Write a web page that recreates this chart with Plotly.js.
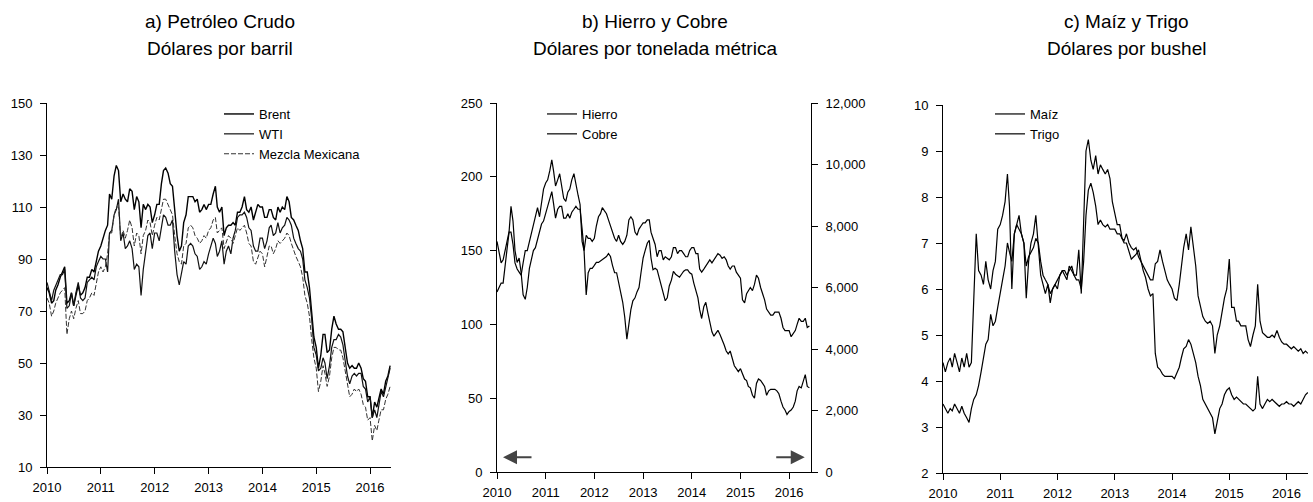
<!DOCTYPE html>
<html>
<head>
<meta charset="utf-8">
<script src="https://cdn.plot.ly/plotly-3.0.1.min.js"></script>
<style>
  html, body { margin: 0; padding: 0; background: #ffffff; }
  #chart { width: 1313px; height: 502px; }
</style>
</head>
<body>
<div id="chart"></div>
<script>
// ---------- Tick labels ----------
const yearTickVals = ['2010-01-01','2011-01-01','2012-01-01','2013-01-01','2014-01-01','2015-01-01','2016-01-01'];
const yearTickText = ['2010','2011','2012','2013','2014','2015','2016'];

// ---------- a) Petróleo crudo (USD/barril), semi-monthly readings ----------
const brent = [
  79,77,73,74,78,80,83,85,87,73,74,77,72,76,80,76,77,79,83,83,86,85,89,93,
  95,98,101,103,115,113,122,126,124,112,115,113,112,117,116,109,114,112,102,111,109,111,110,104,
  107,111,111,119,124,125,123,119,118,109,99,93,95,104,107,114,114,114,112,113,108,109,111,109,
  111,111,115,118,110,108,110,99,102,103,103,104,103,108,108,110,114,109,108,110,105,108,111,110,
  110,106,106,109,109,106,105,110,108,110,109,114,112,106,105,103,101,97,94,85,85,79,70,60,
  56,48,53,61,61,54,55,63,68,65,63,63,62,57,50,48,49,48,48,50,48,44,43,37,
  37,29,35,33,36,40,38,43,45,49
];
const wti = [
  81,78,74,78,80,82,84,84,86,71,72,77,72,77,81,75,74,75,81,82,83,82,87,89,
  91,90,90,85,100,101,107,109,113,97,100,94,95,97,94,86,88,87,76,86,92,99,100,94,
  100,100,97,103,107,106,103,103,105,93,84,80,84,89,88,95,96,95,92,91,86,87,89,88,
  92,95,98,96,91,93,97,88,93,95,92,98,101,106,107,107,108,106,102,101,95,93,93,98,
  98,94,97,102,103,99,100,104,100,102,103,106,105,103,98,96,94,93,90,82,79,75,67,56,
  53,47,48,52,50,44,49,56,59,59,61,60,57,51,45,42,45,46,45,46,46,41,40,35,
  37,29,32,29,34,39,37,41,45,48
];
const mezcla = [
  75,73,68,70,73,75,77,78,79,61,67,70,67,71,74,69,69,70,74,75,77,76,81,85,
  87,85,87,92,100,100,107,110,110,98,101,98,101,105,102,95,100,99,92,99,101,105,104,99,
  103,106,105,110,113,113,111,109,107,99,92,89,88,95,96,102,103,102,99,98,96,97,99,98,
  101,102,105,106,100,101,102,94,97,99,98,96,99,102,101,102,103,100,96,95,89,88,91,93,
  92,87,91,95,95,92,94,97,96,97,98,100,99,96,93,91,89,87,83,76,73,68,59,52,
  48,39,43,49,46,41,45,52,56,56,55,55,52,47,41,37,38,40,39,40,38,34,33,28,
  29,20,26,24,28,32,32,36,38,41
];

// ---------- b) Hierro (USD/t, eje izq.) y Cobre (USD/t, eje der.) ----------
const hierro = [
  122,125,128,128,140,150,162,180,170,150,142,145,135,120,117,125,138,145,150,152,158,162,168,170,
  175,180,185,190,182,172,178,180,180,172,172,175,172,176,178,180,178,178,165,150,120,135,138,138,
  140,142,142,143,144,145,146,148,146,140,135,135,128,120,115,105,90,100,110,116,118,122,125,135,
  145,150,155,157,145,137,138,137,132,128,122,116,118,126,130,136,134,133,132,134,136,137,137,135,
  134,128,122,118,110,104,112,115,108,102,95,92,94,96,93,90,86,82,80,82,76,72,70,68,
  70,66,63,62,58,57,52,50,60,63,62,60,58,52,55,56,56,56,55,53,48,44,42,39,
  41,42,44,48,55,58,57,62,66,58,57
];
const cobre = [
  7500,7200,6800,6900,7200,7500,7800,7800,7400,6800,6600,6500,6400,6800,7200,7200,7500,7800,8100,8300,8600,8300,8800,9200,
  9400,9500,9800,10150,9800,9300,9500,9700,9300,8900,8800,9100,9200,9500,9700,9300,9000,8700,7500,7200,7700,7600,7600,7500,
  7600,8000,8300,8400,8600,8500,8400,8200,8000,7800,7600,7500,7700,7500,7400,7500,7700,8200,8300,8200,7800,7700,7900,8000,
  8100,8100,8200,8200,7800,7600,7400,7000,7200,7200,6900,7000,6950,6900,7000,7300,7300,7100,7200,7200,7100,7000,7000,7200,
  7300,7300,7100,7100,6600,6500,6600,6700,6800,6900,6800,6900,7000,7100,7050,6950,7000,6900,6700,6600,6700,6700,6500,6400,
  6300,5600,5500,5800,5900,6000,5900,6100,6400,6300,6000,5800,5600,5300,5200,5100,5100,5200,5200,5200,5000,4700,4600,4600,
  4600,4400,4500,4600,4800,5000,4900,4900,5000,4700,4750
];

// ---------- c) Maíz y Trigo (USD/bushel) ----------
const maiz = [
  3.5,3.4,3.3,3.4,3.35,3.5,3.4,3.3,3.45,3.3,3.2,3.1,3.4,3.6,3.7,3.9,4.2,4.5,4.8,4.9,5.45,5.2,5.3,5.6,
  5.95,6.2,6.5,7.0,6.8,6.6,7.2,7.4,7.3,7.2,7.0,6.5,6.7,6.8,6.9,7.1,7.0,6.6,6.3,6.2,6.1,5.9,6.0,6.1,
  6.2,6.3,6.4,6.4,6.3,6.4,6.5,6.3,6.2,6.2,6.0,6.6,7.6,8.15,8.3,8.1,7.8,7.4,7.5,7.4,7.35,7.4,7.3,7.3,
  7.3,7.2,7.2,7.1,7.0,7.0,6.8,6.65,6.7,6.75,6.85,6.6,6.4,6.25,6.0,5.85,5.9,4.6,4.3,4.25,4.15,4.1,4.1,4.1,
  4.1,4.05,4.2,4.3,4.5,4.7,4.75,4.9,4.8,4.6,4.4,4.1,3.9,3.6,3.5,3.4,3.3,3.2,2.85,3.1,3.4,3.5,3.7,3.8,
  3.85,3.7,3.6,3.65,3.6,3.55,3.5,3.5,3.45,3.4,3.35,3.4,4.1,3.5,3.4,3.5,3.6,3.55,3.6,3.55,3.5,3.45,3.5,3.5,
  3.55,3.5,3.5,3.45,3.5,3.55,3.5,3.6,3.7,3.75
];
const trigo = [
  4.4,4.2,4.4,4.5,4.3,4.6,4.4,4.2,4.5,4.3,4.6,4.3,4.4,5.6,7.2,6.4,6.3,6.1,6.6,6.2,6.0,6.4,6.6,7.3,
  7.4,7.6,7.9,8.5,7.8,6.0,7.2,7.4,7.6,7.2,7.0,5.8,6.6,7.0,7.2,7.6,6.9,6.3,6.1,5.9,6.1,5.7,6.0,6.1,
  6.0,6.3,6.4,6.3,6.2,6.5,6.4,6.3,6.3,6.85,5.9,7.3,9.0,9.25,8.8,8.6,8.9,8.5,8.7,8.6,8.5,8.6,8.4,7.9,
  7.6,7.4,7.4,7.1,7.05,7.2,7.0,6.9,6.85,6.9,6.7,6.6,6.5,6.4,6.3,6.2,6.2,6.55,6.6,6.85,6.6,6.4,6.2,6.1,
  6.0,5.8,5.75,6.1,6.5,6.9,7.2,6.85,7.35,6.9,6.5,5.85,5.6,5.4,5.3,5.25,5.3,5.2,4.6,5.0,5.2,5.5,5.8,6.0,
  6.65,5.6,5.6,5.3,5.3,5.2,5.2,5.2,4.9,4.75,5.0,5.2,6.1,5.3,5.05,5.0,4.95,4.95,5.0,4.95,5.1,4.95,4.85,4.8,
  4.8,4.75,4.7,4.75,4.7,4.65,4.7,4.6,4.65,4.6
];

// semi-monthly observation dates (1st and 16th of each month) starting Jan 2010
function semiMonthlyDates(n) {
  const out = [];
  for (let i = 0; i < n; i++) {
    const y = 2010 + Math.floor(i / 24);
    const m = Math.floor((i % 24) / 2) + 1;
    const d = (i % 2 === 0) ? '01' : '16';
    out.push(y + '-' + String(m).padStart(2, '0') + '-' + d);
  }
  return out;
}
const datesA = semiMonthlyDates(brent.length);
const datesB = semiMonthlyDates(hierro.length);
const datesC = semiMonthlyDates(maiz.length);

const FONT = 'Liberation Sans, Arial, Helvetica, sans-serif';

const traces = [
  {x: datesA, y: brent, name: 'Brent', type: 'scatter', mode: 'lines', xaxis: 'x', yaxis: 'y', legend: 'legend',
   line: {color: '#000000', width: 1.4}},
  {x: datesA, y: wti, name: 'WTI', type: 'scatter', mode: 'lines', xaxis: 'x', yaxis: 'y', legend: 'legend',
   line: {color: '#111111', width: 1.2}},
  {x: datesA, y: mezcla, name: 'Mezcla Mexicana', type: 'scatter', mode: 'lines', xaxis: 'x', yaxis: 'y', legend: 'legend',
   line: {color: '#333333', width: 1, dash: '5px,2px'}},
  {x: datesB, y: hierro, name: 'Hierro', type: 'scatter', mode: 'lines', xaxis: 'x2', yaxis: 'y2', legend: 'legend2',
   line: {color: '#000000', width: 1.2}},
  {x: datesB, y: cobre, name: 'Cobre', type: 'scatter', mode: 'lines', xaxis: 'x2', yaxis: 'y3', legend: 'legend2',
   line: {color: '#000000', width: 1.2}},
  {x: datesC, y: maiz, name: 'Maíz', type: 'scatter', mode: 'lines', xaxis: 'x3', yaxis: 'y4', legend: 'legend3',
   line: {color: '#000000', width: 1.2}},
  {x: datesC, y: trigo, name: 'Trigo', type: 'scatter', mode: 'lines', xaxis: 'x3', yaxis: 'y4', legend: 'legend3',
   line: {color: '#000000', width: 1.2}}
];

const W = 1313, H = 502;
const px = v => v / W;
const py = v => 1 - v / H;

const axisCommon = {
  showline: true, linecolor: '#000000', linewidth: 1,
  ticks: 'outside', ticklen: 6, tickwidth: 1, tickcolor: '#000000',
  showgrid: false, zeroline: false,
  tickfont: {family: FONT, size: 13, color: '#000000'},
  fixedrange: true
};
function xAxis(domain, endDate, anchor) {
  return Object.assign({}, axisCommon, {
    type: 'date', domain: domain, anchor: anchor,
    range: ['2010-01-01', endDate], ticklabelstandoff: 2,
    tickmode: 'array', tickvals: yearTickVals, ticktext: yearTickText
  });
}
function yAxis(extra) {
  return Object.assign({}, axisCommon, {ticklabelstandoff: 5}, extra);
}

const legendCommon = {
  xref: 'paper', yref: 'paper', xanchor: 'left', yanchor: 'top',
  bgcolor: 'rgba(0,0,0,0)', borderwidth: 0,
  font: {family: FONT, size: 13, color: '#000000'},
  tracegroupgap: 0, itemclick: false, itemdoubleclick: false
};

function titleLine(x, y, text) {
  return {xref: 'paper', yref: 'paper', x: px(x), y: py(y), xanchor: 'center', yanchor: 'middle', showarrow: false,
          text: text, font: {family: FONT, size: 19, color: '#000000'}};
}

const layout = {
  width: W, height: H,
  margin: {l: 0, r: 0, t: 0, b: 0},
  paper_bgcolor: '#ffffff', plot_bgcolor: '#ffffff',
  font: {family: FONT, color: '#000000'},
  showlegend: true,
  xaxis: xAxis([px(47), px(391)], '2016-05-22', 'y'),
  yaxis: yAxis({domain: [py(467), py(103)], anchor: 'x', range: [10, 150], tickmode: 'linear', tick0: 10, dtick: 20}),
  xaxis2: xAxis([px(497), px(811)], '2016-06-13', 'y2'),
  yaxis2: yAxis({domain: [py(472), py(103)], anchor: 'x2', range: [0, 250], tickmode: 'linear', tick0: 0, dtick: 50}),
  yaxis3: yAxis({overlaying: 'y2', side: 'right', anchor: 'x2', range: [0, 12000], tickmode: 'linear', tick0: 0, dtick: 2000, tickformat: ',d'}),
  xaxis3: xAxis([px(943), px(1308)], '2016-05-17', 'y4'),
  yaxis4: yAxis({domain: [py(473), py(105)], anchor: 'x3', range: [2, 10], tickmode: 'linear', tick0: 2, dtick: 1}),
  legend: Object.assign({}, legendCommon, {x: px(219), y: py(99)}),
  legend2: Object.assign({}, legendCommon, {x: px(542), y: py(99)}),
  legend3: Object.assign({}, legendCommon, {x: px(990), y: py(99)}),
  annotations: [
    titleLine(220, 22, 'a) Petróleo Crudo'),
    titleLine(220, 48, 'Dólares por barril'),
    titleLine(655, 22, 'b) Hierro y Cobre'),
    titleLine(655, 48, 'Dólares por tonelada métrica'),
    titleLine(1126, 22, 'c) Maíz y Trigo'),
    titleLine(1126, 48, 'Dólares por bushel'),
    // axis-indicator arrows in panel b
    {xref: 'x2', yref: 'y2', x: '2010-02-15', y: 10, ax: 30, ay: 0, text: '', showarrow: true,
     arrowhead: 2, arrowsize: 1.4, arrowwidth: 2, arrowcolor: '#444444'},
    {xref: 'x2', yref: 'y2', x: '2016-04-27', y: 10, ax: -30, ay: 0, text: '', showarrow: true,
     arrowhead: 2, arrowsize: 1.4, arrowwidth: 2, arrowcolor: '#444444'}
  ]
};

Plotly.newPlot('chart', traces, layout, {displayModeBar: false, staticPlot: true});
</script>
</body>
</html>
